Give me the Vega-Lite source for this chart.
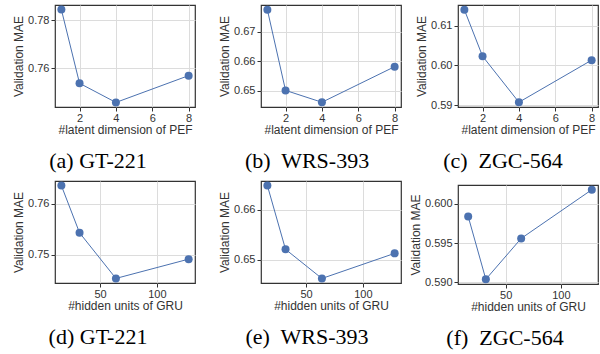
{
  "$schema": "https://vega.github.io/schema/vega-lite/v6.json",
  "padding": {"left": 11, "top": 4, "right": 0, "bottom": 0},
  "background": "white",
  "datasets": {
    "a": [{"dim": 1, "mae": 0.7845}, {"dim": 2, "mae": 0.7537}, {"dim": 4, "mae": 0.7457}, {"dim": 8, "mae": 0.7569}],
    "b": [{"dim": 1, "mae": 0.6774}, {"dim": 2, "mae": 0.6502}, {"dim": 4, "mae": 0.6462}, {"dim": 8, "mae": 0.6582}],
    "c": [{"dim": 1, "mae": 0.6140}, {"dim": 2, "mae": 0.6023}, {"dim": 4, "mae": 0.5907}, {"dim": 8, "mae": 0.6013}],
    "d": [{"units": 16, "mae": 0.7636}, {"units": 32, "mae": 0.7543}, {"units": 64, "mae": 0.7453}, {"units": 128, "mae": 0.7491}],
    "e": [{"units": 16, "mae": 0.6648}, {"units": 32, "mae": 0.6521}, {"units": 64, "mae": 0.6463}, {"units": 128, "mae": 0.6513}],
    "f": [{"units": 16, "mae": 0.5984}, {"units": 32, "mae": 0.5904}, {"units": 64, "mae": 0.5956}, {"units": 128, "mae": 0.6018}]
  },
  "hconcat": [
    {
      "hconcat": [
        {
          "vconcat": [
            {
              "data": {"name": "a"}, "width": 140, "height": 102,
              "title": {"text": "(a) GT-221", "dx": -27},
              "encoding": {
                "x": {"field": "dim", "type": "quantitative", "scale": {"domain": [0.65, 8.35], "nice": false, "zero": false}, "axis": {"values": [2, 4, 6, 8], "title": "#latent dimension of PEF"}},
                "y": {"field": "mae", "type": "quantitative", "scale": {"domain": [0.7438, 0.7864], "nice": false, "zero": false}, "axis": {"values": [0.76, 0.78], "format": ".2f", "title": "Validation MAE"}}
              },
              "layer": [
                {"mark": {"type": "line", "color": "#4C72B0", "strokeWidth": 1}},
                {"mark": {"type": "point", "filled": true, "size": 64, "color": "#4C72B0", "opacity": 1}}
              ]
            },
            {
              "data": {"name": "d"}, "width": 140, "height": 102,
              "title": {"text": "(d) GT-221", "dx": -27},
              "encoding": {
                "x": {"field": "units", "type": "quantitative", "scale": {"domain": [10.4, 133.6], "nice": false, "zero": false}, "axis": {"values": [50, 100], "title": "#hidden units of GRU"}},
                "y": {"field": "mae", "type": "quantitative", "scale": {"domain": [0.7444, 0.7645], "nice": false, "zero": false}, "axis": {"values": [0.75, 0.76], "format": ".2f", "title": "Validation MAE"}}
              },
              "layer": [
                {"mark": {"type": "line", "color": "#4C72B0", "strokeWidth": 1}},
                {"mark": {"type": "point", "filled": true, "size": 64, "color": "#4C72B0", "opacity": 1}}
              ]
            }
          ],
          "spacing": 74,
          "bounds": "flush"
        },
        {
          "vconcat": [
            {
              "data": {"name": "b"}, "width": 140, "height": 102,
              "title": {"text": "(b)\u00a0 WRS-393", "dx": -24},
              "encoding": {
                "x": {"field": "dim", "type": "quantitative", "scale": {"domain": [0.65, 8.35], "nice": false, "zero": false}, "axis": {"values": [2, 4, 6, 8], "title": "#latent dimension of PEF"}},
                "y": {"field": "mae", "type": "quantitative", "scale": {"domain": [0.6446, 0.6790], "nice": false, "zero": false}, "axis": {"values": [0.65, 0.66, 0.67], "format": ".2f", "title": "Validation MAE"}}
              },
              "layer": [
                {"mark": {"type": "line", "color": "#4C72B0", "strokeWidth": 1}},
                {"mark": {"type": "point", "filled": true, "size": 64, "color": "#4C72B0", "opacity": 1}}
              ]
            },
            {
              "data": {"name": "e"}, "width": 140, "height": 102,
              "title": {"text": "(e)\u00a0 WRS-393", "dx": -24},
              "encoding": {
                "x": {"field": "units", "type": "quantitative", "scale": {"domain": [10.4, 133.6], "nice": false, "zero": false}, "axis": {"values": [50, 100], "title": "#hidden units of GRU"}},
                "y": {"field": "mae", "type": "quantitative", "scale": {"domain": [0.6454, 0.6657], "nice": false, "zero": false}, "axis": {"values": [0.65, 0.66], "format": ".2f", "title": "Validation MAE"}}
              },
              "layer": [
                {"mark": {"type": "line", "color": "#4C72B0", "strokeWidth": 1}},
                {"mark": {"type": "point", "filled": true, "size": 64, "color": "#4C72B0", "opacity": 1}}
              ]
            }
          ],
          "spacing": 74,
          "bounds": "flush"
        }
      ],
      "spacing": 21
    },
    {
      "vconcat": [
        {
          "data": {"name": "c"}, "width": 140, "height": 102,
          "title": {"text": "(c)\u00a0 ZGC-564", "dx": -25},
          "encoding": {
            "x": {"field": "dim", "type": "quantitative", "scale": {"domain": [0.65, 8.35], "nice": false, "zero": false}, "axis": {"values": [2, 4, 6, 8], "title": "#latent dimension of PEF"}},
            "y": {"field": "mae", "type": "quantitative", "scale": {"domain": [0.5895, 0.6152], "nice": false, "zero": false}, "axis": {"values": [0.59, 0.60, 0.61], "format": ".2f", "title": "Validation MAE"}}
          },
          "layer": [
            {"mark": {"type": "line", "color": "#4C72B0", "strokeWidth": 1}},
            {"mark": {"type": "point", "filled": true, "size": 64, "color": "#4C72B0", "opacity": 1}}
          ]
        },
        {
          "data": {"name": "f"}, "width": 140, "height": 99,
          "title": {"text": "(f)\u00a0 ZGC-564", "dx": -23},
          "encoding": {
            "x": {"field": "units", "type": "quantitative", "scale": {"domain": [6.78, 133.6], "nice": false, "zero": false}, "axis": {"values": [50, 100], "title": "#hidden units of GRU"}},
            "y": {"field": "mae", "type": "quantitative", "scale": {"domain": [0.5898, 0.6024], "nice": false, "zero": false}, "axis": {"values": [0.590, 0.595, 0.600], "format": ".3f", "title": "Validation MAE"}}
          },
          "layer": [
            {"mark": {"type": "line", "color": "#4C72B0", "strokeWidth": 1}},
            {"mark": {"type": "point", "filled": true, "size": 64, "color": "#4C72B0", "opacity": 1}}
          ]
        }
      ],
      "spacing": 78,
      "bounds": "flush"
    }
  ],
  "spacing": 6,
  "config": {
    "font": "Liberation Sans",
    "view": {"stroke": "#333333", "strokeWidth": 1.2},
    "axis": {
      "domain": false, "grid": true, "gridColor": "#dcdcdc", "gridWidth": 1,
      "tickColor": "#333333", "tickSize": 4, "tickWidth": 1,
      "labelFont": "Liberation Sans", "labelFontSize": 11, "labelColor": "#333333", "labelPadding": 2, "labelFlush": false,
      "titleFont": "Liberation Sans", "titleFontSize": 12, "titleFontWeight": "normal", "titleColor": "#333333"
    },
    "axisX": {"titlePadding": 1, "labelPadding": 1},
    "axisY": {"titlePadding": 2},
    "title": {"orient": "bottom", "anchor": "middle", "frame": "group", "font": "Liberation Serif", "fontSize": 22, "fontWeight": "normal", "color": "#000000", "offset": 16}
  }
}
